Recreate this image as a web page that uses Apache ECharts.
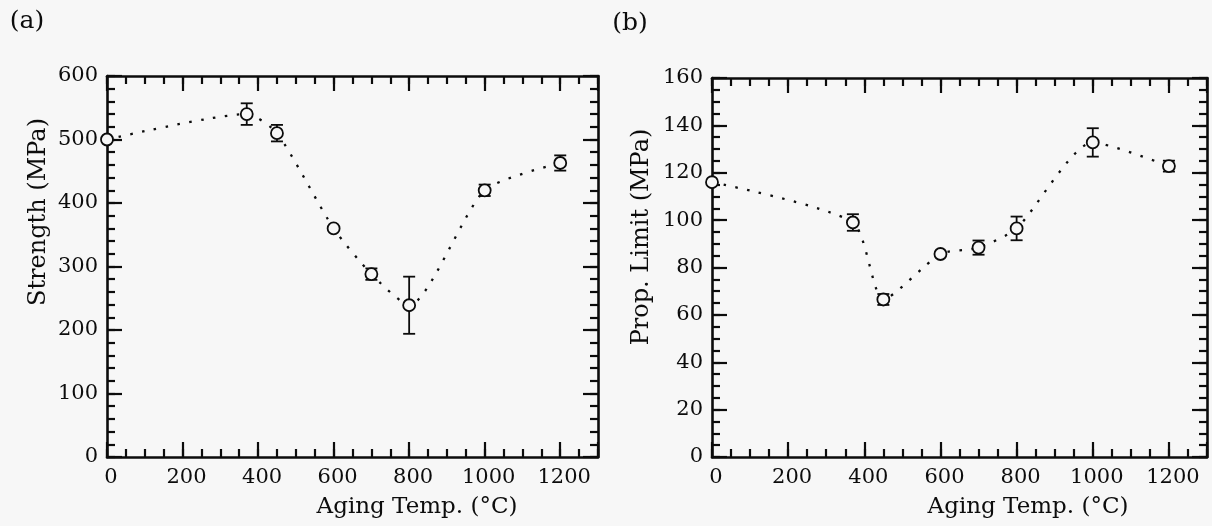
<!DOCTYPE html>
<html>
<head>
<meta charset="utf-8">
<script src="https://cdn.jsdelivr.net/npm/echarts@6/dist/echarts.min.js"></script>
<style>
  html, body { margin: 0; padding: 0; background: #f7f7f7; }
  #chart { width: 1212px; height: 526px; }
</style>
</head>
<body>
<div id="chart"></div>
<script>
// Aging temperature (°C) for both panels
const agingTemp = [0, 370, 450, 600, 700, 800, 1000, 1200];

// Panel (a): strength (MPa) and error half-widths
const strength = [500, 540, 510, 360, 288, 239, 420, 463];
const strengthErr = [0, 17, 13, 0, 9, 45, 9, 12];

// Panel (b): proportional limit (MPa) and error half-widths
const propLimit = [116, 99, 66.5, 85.7, 88.4, 96.5, 132.8, 122.8];
const propLimitErr = [0, 3.5, 2.3, 0, 3, 5, 6, 2.3];

// Axis ranges and tick steps
const xRange = [0, 1300];
const xMajor = 200, xMinor = 50;
const yRangeA = [0, 600], yMajorA = 100, yMinorA = 20;
const yRangeB = [0, 160], yMajorB = 20, yMinorB = 5;

const INK = '#0c0c0c';
const SERIF = 'DejaVu Serif';

const chart = echarts.init(document.getElementById('chart'));

// One axis; "major" axes carry the frame line, long ticks and (optionally) labels,
// "minor" axes only carry short ticks. Each kind lives in its own overlapping grid.
function axis(gridIndex, range, step, position, kind, labelOpts) {
  const isMajor = kind === 'major';
  return {
    gridIndex, type: 'value', min: range[0], max: range[1], interval: step, position,
    splitLine: { show: false },
    axisLine: { show: isMajor, onZero: false, lineStyle: { color: INK, width: 2.6 } },
    axisTick: { show: true, inside: true, length: isMajor ? 15 : 8, lineStyle: { color: INK, width: 2.2 } },
    axisLabel: labelOpts ? Object.assign({
      show: true, color: INK, fontFamily: SERIF, fontSize: 21,
      formatter: v => (v % step === 0 ? String(v) : '')
    }, labelOpts) : { show: false }
  };
}

const xLabel = { margin: 10, padding: [0, 0, 0, 8] };
const yLabel = { margin: 9 };

// grids: 0 = (a) major, 1 = (a) minor, 2 = (b) major, 3 = (b) minor
const rectA = { left: 107, top: 76, width: 491, height: 381, show: false };
const rectB = { left: 712, top: 78, width: 495, height: 379, show: false };

const xAxes = [
  axis(0, xRange, xMajor, 'bottom', 'major', xLabel),
  axis(0, xRange, xMajor, 'top', 'major'),
  axis(1, xRange, xMinor, 'bottom', 'minor'),
  axis(1, xRange, xMinor, 'top', 'minor'),
  axis(2, xRange, xMajor, 'bottom', 'major', xLabel),
  axis(2, xRange, xMajor, 'top', 'major'),
  axis(3, xRange, xMinor, 'bottom', 'minor'),
  axis(3, xRange, xMinor, 'top', 'minor')
];
const yAxes = [
  axis(0, yRangeA, yMajorA, 'left', 'major', yLabel),
  axis(0, yRangeA, yMajorA, 'right', 'major'),
  axis(1, yRangeA, yMinorA, 'left', 'minor'),
  axis(1, yRangeA, yMinorA, 'right', 'minor'),
  axis(2, yRangeB, yMajorB, 'left', 'major', yLabel),
  axis(2, yRangeB, yMajorB, 'right', 'major'),
  axis(3, yRangeB, yMinorB, 'left', 'minor'),
  axis(3, yRangeB, yMinorB, 'right', 'minor')
];

function errorBars(axisIdx, xs, ys, es) {
  return {
    type: 'custom', xAxisIndex: axisIdx, yAxisIndex: axisIdx, z: 1,
    encode: { x: 0, y: 1 },
    data: xs.map((x, i) => [x, ys[i], es[i]]),
    renderItem: (params, api) => {
      const x = api.value(0), y = api.value(1), e = api.value(2);
      if (!e) return null;
      const top = api.coord([x, y + e]);
      const bot = api.coord([x, y - e]);
      const hw = 6;
      const st = { stroke: INK, lineWidth: 1.8 };
      return {
        type: 'group', children: [
          { type: 'line', shape: { x1: top[0], y1: top[1], x2: bot[0], y2: bot[1] }, style: st },
          { type: 'line', shape: { x1: top[0] - hw, y1: top[1], x2: top[0] + hw, y2: top[1] }, style: st },
          { type: 'line', shape: { x1: bot[0] - hw, y1: bot[1], x2: bot[0] + hw, y2: bot[1] }, style: st }
        ]
      };
    }
  };
}

function curve(axisIdx, xs, ys) {
  return {
    type: 'line', xAxisIndex: axisIdx, yAxisIndex: axisIdx, z: 3,
    data: xs.map((x, i) => [x, ys[i]]),
    smooth: 0.22,
    symbol: 'circle', symbolSize: 12,
    itemStyle: { color: '#f7f7f7', borderColor: INK, borderWidth: 1.8 },
    lineStyle: { color: INK, width: 2.3, type: [2.5, 9.5] },
    emphasis: { disabled: true },
    animation: false
  };
}

function text(str, x, y, size, rotate) {
  return {
    type: 'text', x, y, rotation: rotate ? Math.PI / 2 : 0,
    style: {
      text: str, fill: INK, font: size + 'px "' + SERIF + '"',
      textAlign: 'center', textVerticalAlign: 'middle'
    }
  };
}

chart.setOption({
  backgroundColor: '#f7f7f7',
  animation: false,
  grid: [rectA, Object.assign({}, rectA), rectB, Object.assign({}, rectB)],
  xAxis: xAxes,
  yAxis: yAxes,
  series: [
    errorBars(0, agingTemp, strength, strengthErr),
    curve(0, agingTemp, strength),
    errorBars(4, agingTemp, propLimit, propLimitErr),
    curve(4, agingTemp, propLimit)
  ],
  graphic: [
    text('(a)', 27, 21, 25, false),
    text('(b)', 630, 23, 25, false),
    text('Strength (MPa)', 39, 212, 24, true),
    text('Prop. Limit (MPa)', 642, 237, 24, true),
    text('Aging Temp. (°C)', 417, 507, 23, false),
    text('Aging Temp. (°C)', 1028, 507, 23, false)
  ]
});
</script>
</body>
</html>
